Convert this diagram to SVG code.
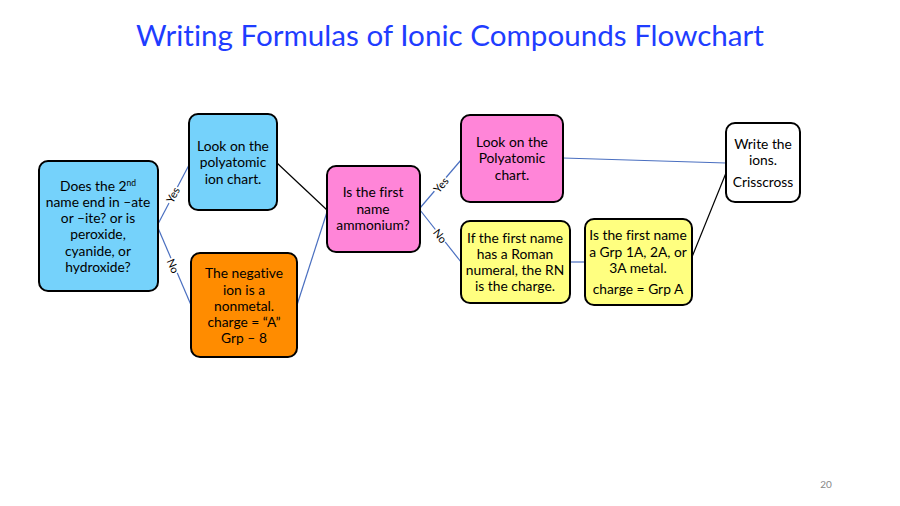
<svg xmlns="http://www.w3.org/2000/svg" width="900" height="506" viewBox="0 0 900 506">
<style>
text{font-variant-ligatures:none;font-feature-settings:"liga" 0}
.box{stroke:#000;stroke-width:2}
.t{font-family:Lato,"Open Sans",sans-serif;font-size:13.8px;text-anchor:middle;fill:#000}
.lbl{font-family:Lato,"Open Sans",sans-serif;font-size:11px;text-anchor:middle;fill:#000}
.cb{stroke:#4a6fc0;stroke-width:1.2;fill:none}
.ck{stroke:#000;stroke-width:1.2;fill:none}
</style>
<rect width="900" height="506" fill="#fff"/>
<text x="450" y="46" font-family="Lato,'Open Sans',sans-serif" font-size="29.6" fill="#1f3dff" text-anchor="middle">Writing Formulas of Ionic Compounds Flowchart</text>
<g id="connectors">
<line class="cb" x1="158" y1="224" x2="189" y2="165"/>
<line class="cb" x1="158" y1="228" x2="191" y2="305"/>
<line class="ck" x1="277" y1="163" x2="327" y2="210"/>
<line class="cb" x1="297" y1="305" x2="327" y2="212"/>
<line class="cb" x1="420" y1="208" x2="461" y2="160"/>
<line class="cb" x1="420" y1="210" x2="461" y2="262"/>
<line class="cb" x1="563" y1="158" x2="726" y2="163"/>
<line class="cb" x1="570" y1="262" x2="585" y2="262"/>
<line class="ck" x1="692" y1="257" x2="728" y2="168"/>
<g>
<rect x="164" y="188" width="18" height="13" fill="#fff" transform="rotate(-62 173 195)"/>
<text class="lbl" x="173" y="199" transform="rotate(-62 173 195)">Yes</text>
<rect x="165" y="260" width="16" height="13" fill="#fff" transform="rotate(67 173 266)"/>
<text class="lbl" x="173" y="270" transform="rotate(67 173 266)">No</text>
<rect x="432" y="178" width="18" height="13" fill="#fff" transform="rotate(-50 441 185)"/>
<text class="lbl" x="441" y="189" transform="rotate(-50 441 185)">Yes</text>
<rect x="432" y="230" width="16" height="13" fill="#fff" transform="rotate(52 440 236)"/>
<text class="lbl" x="440" y="240" transform="rotate(52 440 236)">No</text>
</g>
</g>
<g id="nodeA">
<rect class="box" x="39" y="161" width="119" height="130" rx="9" fill="#75d2fb"/>
<text class="t" x="98" y="191">Does the 2<tspan font-size="8.5" dy="-5">nd</tspan></text>
<text class="t" x="98" y="207">name end in –ate</text>
<text class="t" x="98" y="223">or –ite? or is</text>
<text class="t" x="98" y="239">peroxide,</text>
<text class="t" x="98" y="256">cyanide, or</text>
<text class="t" x="98" y="272">hydroxide?</text>
</g>
<g id="nodeB">
<rect class="box" x="189" y="114" width="88" height="96" rx="9" fill="#75d2fb"/>
<text class="t" x="233" y="151">Look on the</text>
<text class="t" x="233" y="167">polyatomic</text>
<text class="t" x="233" y="184">ion chart.</text>
</g>
<g id="nodeC">
<rect class="box" x="191" y="253" width="106" height="104" rx="9" fill="#ff8c00"/>
<text class="t" x="244" y="278">The negative</text>
<text class="t" x="244" y="295">ion is a</text>
<text class="t" x="244" y="311">nonmetal.</text>
<text class="t" x="244" y="327">charge = “A”</text>
<text class="t" x="244" y="343">Grp – 8</text>
</g>
<g id="nodeD">
<rect class="box" x="327" y="166" width="93" height="86" rx="9" fill="#ff85d8"/>
<text class="t" x="373" y="197">Is the first</text>
<text class="t" x="373" y="214">name</text>
<text class="t" x="373" y="230">ammonium?</text>
</g>
<g id="nodeE">
<rect class="box" x="461" y="115" width="102" height="87" rx="9" fill="#ff85d8"/>
<text class="t" x="512" y="147">Look on the</text>
<text class="t" x="512" y="163">Polyatomic</text>
<text class="t" x="512" y="180">chart.</text>
</g>
<g id="nodeF">
<rect class="box" x="461" y="221" width="109" height="82" rx="9" fill="#ffff80"/>
<text class="t" x="515" y="243">If the first name</text>
<text class="t" x="515" y="259">has a Roman</text>
<text class="t" x="515" y="275">numeral, the RN</text>
<text class="t" x="515" y="291">is the charge.</text>
</g>
<g id="nodeG">
<rect class="box" x="585" y="219" width="107" height="86" rx="9" fill="#ffff80"/>
<text class="t" x="638" y="240">Is the first name</text>
<text class="t" x="638" y="257">a Grp 1A, 2A, or</text>
<text class="t" x="638" y="273">3A metal.</text>
<text class="t" x="638" y="294">charge = Grp A</text>
</g>
<g id="nodeH">
<rect class="box" x="726" y="123" width="74" height="79" rx="9" fill="#fff"/>
<text class="t" x="763" y="149">Write the</text>
<text class="t" x="763" y="165">ions.</text>
<text class="t" x="763" y="187">Crisscross</text>
</g>
<text x="826" y="488" font-family="Lato,'Open Sans',sans-serif" font-size="10" fill="#888" text-anchor="middle">20</text>
</svg>
